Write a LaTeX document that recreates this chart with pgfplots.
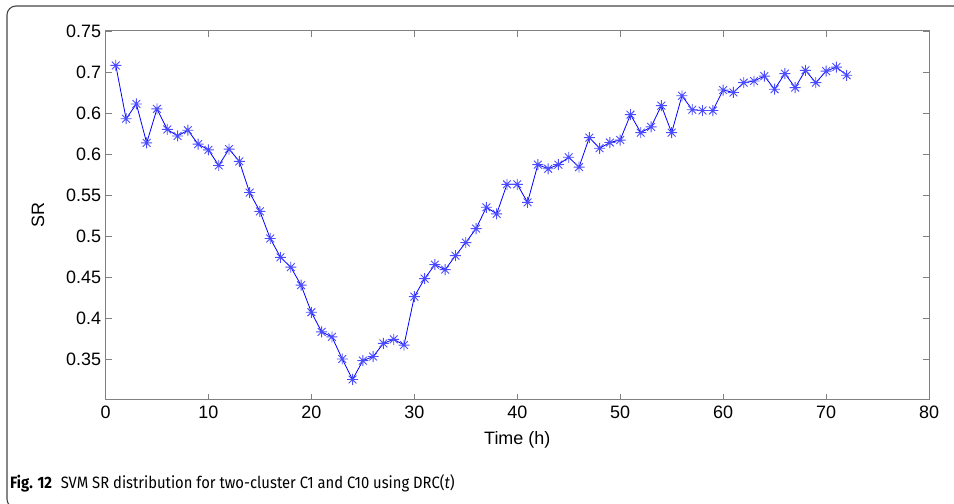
\documentclass[border=0pt]{standalone}
\usepackage{pgfplots}
\pgfplotsset{compat=1.18}
\usepackage{fontspec}
\usepackage{graphicx}
\setmainfont{Liberation Sans}
\newfontfamily\capfont{Fira Sans}
\definecolor{axgray}{RGB}{128,128,128}
\definecolor{framegray}{RGB}{70,70,70}
\definecolor{mblue}{RGB}{0,0,255}
\pgfdeclareplotmark{mstar}{%
  \pgfpathmoveto{\pgfqpoint{-\pgfplotmarksize}{0pt}}\pgfpathlineto{\pgfqpoint{\pgfplotmarksize}{0pt}}%
  \pgfpathmoveto{\pgfqpoint{0pt}{-\pgfplotmarksize}}\pgfpathlineto{\pgfqpoint{0pt}{\pgfplotmarksize}}%
  \pgfpathmoveto{\pgfqpoint{-0.7071\pgfplotmarksize}{-0.7071\pgfplotmarksize}}\pgfpathlineto{\pgfqpoint{0.7071\pgfplotmarksize}{0.7071\pgfplotmarksize}}%
  \pgfpathmoveto{\pgfqpoint{-0.7071\pgfplotmarksize}{0.7071\pgfplotmarksize}}\pgfpathlineto{\pgfqpoint{0.7071\pgfplotmarksize}{-0.7071\pgfplotmarksize}}%
  \pgfusepathqstroke}
\begin{document}
\begin{tikzpicture}
\useasboundingbox (0,0) rectangle (954bp,504bp);
\draw[framegray, line width=1.1bp, rounded corners=9bp] (960bp,498bp) -- (7bp,498bp) -- (7bp,-4bp) -- (30bp,-4bp);
\begin{axis}[
  at={(105.5bp,104bp)}, anchor=south west,
  width=823.5bp, height=369bp, scale only axis,
  xmin=0, xmax=80, ymin=0.3, ymax=0.75,
  xtick={0,10,...,80},
  ytick={0.35,0.4,0.45,0.5,0.55,0.6,0.65,0.7,0.75},
  yticklabels={0.35,0.4,0.45,0.5,0.55,0.6,0.6,0.7,0.75},
  axis line style={axgray, line width=1bp},
  tick style={axgray, line width=0.9bp},
  tick align=inside, major tick length=6bp,
  tick label style={font=\fontsize{18}{20}\selectfont, text=black},
  /pgf/number format/assume math mode=true,
  xticklabel style={yshift=-2bp},
  yticklabel style={xshift=-1bp},
  xlabel={Time (h)}, ylabel={SR},
  every axis x label/.style={at={(axis description cs:0.5,-0.108)}, anchor=center, font=\fontsize{18}{20}\selectfont},
  every axis y label/.style={at={(axis description cs:-0.082,0.5)}, rotate=90, anchor=center, font=\fontsize{18}{20}\selectfont},
  clip=false,
]
\addplot[mblue, line width=0.8bp, mark=mstar, mark size=5.5bp,
  mark options={mblue!70, line width=0.9bp}] coordinates {
(1,0.708) (2,0.643) (3,0.661) (4,0.6135) (5,0.655) (6,0.630) (7,0.622) (8,0.629)
(9,0.612) (10,0.605) (11,0.586) (12,0.606) (13,0.591) (14,0.553) (15,0.530) (16,0.497)
(17,0.474) (18,0.462) (19,0.440) (20,0.407) (21,0.383) (22,0.377) (23,0.350) (24,0.325)
(25,0.348) (26,0.353) (27,0.369) (28,0.374) (29,0.367) (30,0.426) (31,0.448) (32,0.465)
(33,0.459) (34,0.476) (35,0.492) (36,0.509) (37,0.535) (38,0.527) (39,0.563) (40,0.563)
(41,0.541) (42,0.587) (43,0.582) (44,0.587) (45,0.596) (46,0.584) (47,0.620) (48,0.607)
(49,0.614) (50,0.617) (51,0.648) (52,0.626) (53,0.633) (54,0.659) (55,0.626) (56,0.671)
(57,0.654) (58,0.653) (59,0.653) (60,0.678) (61,0.675) (62,0.687) (63,0.689) (64,0.695)
(65,0.679) (66,0.698) (67,0.681) (68,0.702) (69,0.687) (70,0.701) (71,0.706) (72,0.696)
};
\end{axis}
\node[anchor=base west, inner sep=0pt] at (10bp,16bp) {\scalebox{0.9}[1]{\capfont\fontsize{16.5}{18}\selectfont\textbf{Fig. 12}\hspace{0.6em}SVM SR distribution for two-cluster C1 and C10 using DRC(\textit{t})}};
\end{tikzpicture}
\end{document}
